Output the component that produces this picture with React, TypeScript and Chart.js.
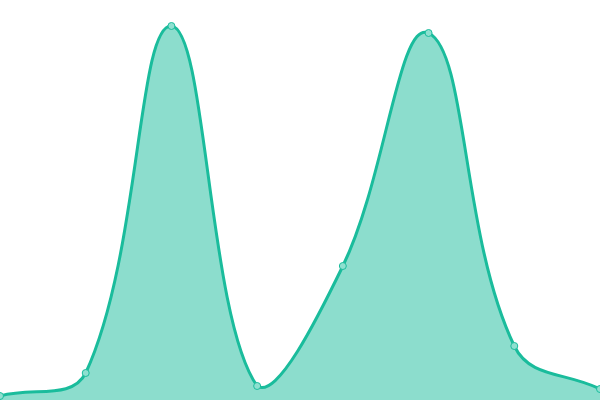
import React, { useEffect, useRef } from "react";
import { Chart, registerables } from "chart.js";

Chart.register(...registerables);

const categories = ["A", "B", "C", "D", "E", "F", "G", "H"];
const seriesValues = [4, 27, 374, 14, 134, 367, 54, 11];

export default function App() {
  const ref = useRef<HTMLCanvasElement | null>(null);
  useEffect(() => {
    if (!ref.current) return;
    const chart = new Chart(ref.current, {
      type: "line",
      data: {
        labels: categories,
        datasets: [
          {
            data: seriesValues,
            borderColor: "#1abc9c",
            backgroundColor: "rgba(26,188,156,0.5)",
            fill: true,
            tension: 0.4,
            borderWidth: 3,
            pointRadius: 3.5,
            pointBorderWidth: 1,
            pointBackgroundColor: "#8ee0d0",
            pointBorderColor: "#1abc9c",
            clip: 10,
          },
        ],
      },
      options: {
        animation: false,
        responsive: false,
        layout: { padding: 0, autoPadding: false },
        plugins: { legend: { display: false }, tooltip: { enabled: false } },
        scales: {
          x: { display: false, offset: false },
          y: { display: false, min: 0, max: 400 },
        },
      },
    });
    return () => chart.destroy();
  }, []);
  return (
    <div style={{ position: "fixed", left: 0, top: 0, width: 600, height: 400, background: "#fff" }}>
      <canvas ref={ref} width={600} height={400} style={{ display: "block" }} />
    </div>
  );
}
